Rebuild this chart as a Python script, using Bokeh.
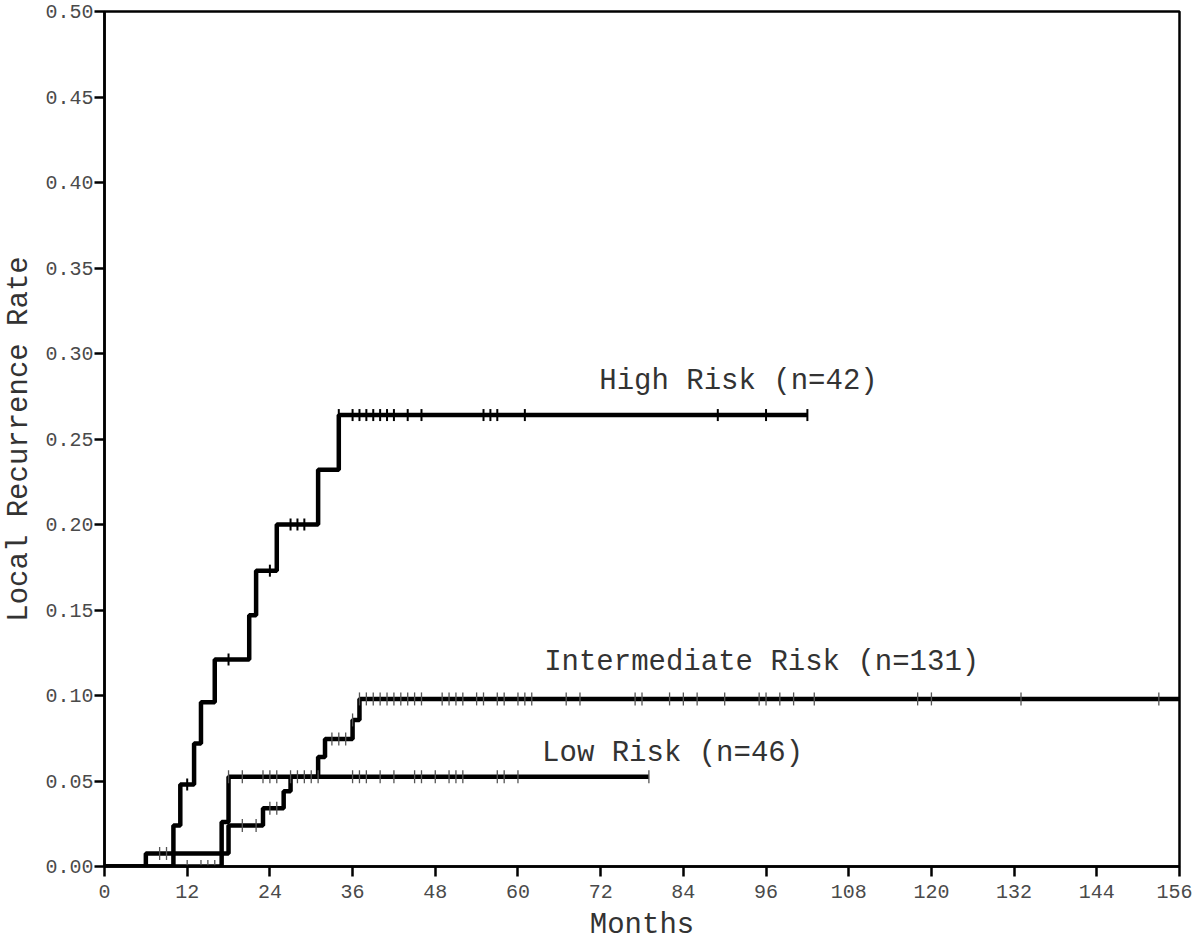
import numpy as np
from bokeh.plotting import figure
from bokeh.models import Range1d, FixedTicker, NumeralTickFormatter, Label
from bokeh.embed import file_html
from bokeh.resources import INLINE

# ---- data (months, cumulative local recurrence rate) ----
high_times = [0, 10, 11, 13, 14, 16, 21, 22, 25, 31, 34]
high_vals = [0.0, 0.024, 0.048, 0.072, 0.096, 0.121, 0.147, 0.173, 0.200, 0.232, 0.264]
high_end = 102
high_cens_t = [12, 18, 24, 27, 28, 29, 34, 36, 37, 38, 39, 40, 41, 42, 44, 46, 55, 56, 57, 61, 89, 96, 102]

inter_times = [0, 6, 18, 23, 26, 27, 31, 32, 36, 37]
inter_vals = [0.0, 0.0076, 0.024, 0.034, 0.044, 0.0525, 0.064, 0.0745, 0.0857, 0.098]
inter_end = 156
inter_cens_t = [8, 9, 20, 22, 24, 25, 33, 34, 35, 36,
                37, 38, 39, 40, 41, 42, 43, 44, 45, 46, 49, 50, 51, 52, 54, 55, 57, 58, 60, 61, 62,
                67, 69, 77, 78, 82, 84, 86, 90, 95, 96, 98, 100, 103, 118, 120, 133, 153]

low_times = [0, 17, 18]
low_vals = [0.0, 0.026, 0.0525]
low_end = 79
low_cens_t = [12, 14, 15, 16, 18, 20, 23, 24, 25, 27, 28, 29, 30, 31, 36, 37, 38, 40, 42,
              45, 46, 48, 50, 51, 52, 57, 58, 60, 79]

x_ticks = list(range(0, 157, 12))
y_ticks = [0.0, 0.05, 0.10, 0.15, 0.20, 0.25, 0.30, 0.35, 0.40, 0.45, 0.50]

labels = ["High Risk (n=42)", "Intermediate Risk (n=131)", "Low Risk (n=46)"]
label_pos = [(71.8, 0.2835), (63.8, 0.1193), (63.5, 0.0658)]
x_title = "Months"
y_title = "Local Recurrence Rate"

FONT = "Liberation Mono"


def value_at(times, vals, t):
    idx = np.searchsorted(np.array(times), t, side="right") - 1
    return vals[max(idx, 0)]


p = figure(width=1192, height=944, output_backend="svg", toolbar_location=None,
           x_range=Range1d(0, 156), y_range=Range1d(0, 0.5),
           min_border_left=101, min_border_right=13, min_border_top=11, min_border_bottom=77)
p.background_fill_color = "white"
p.border_fill_color = "white"
p.grid.visible = False
p.outline_line_color = "black"
p.outline_line_width = 2.5

p.xaxis.ticker = FixedTicker(ticks=x_ticks)
p.yaxis.ticker = FixedTicker(ticks=y_ticks)
p.yaxis.formatter = NumeralTickFormatter(format="0.00")
for ax in (p.xaxis, p.yaxis):
    ax.axis_line_width = 2.5
    ax.major_tick_line_width = 2.5
    ax.major_tick_out = 10
    ax.major_tick_in = 0
    ax.minor_tick_line_color = None
    ax.major_label_text_font = FONT
    ax.major_label_text_font_size = "20px"
    ax.major_label_text_color = "#4a4a4a"
    ax.axis_label_text_font = FONT
    ax.axis_label_text_font_size = "29px"
    ax.axis_label_text_font_style = "normal"
    ax.axis_label_text_color = "#333333"
p.xaxis.axis_label = x_title
p.yaxis.axis_label = y_title
p.xaxis.major_label_standoff = 8
p.xaxis.axis_label_standoff = 8
p.yaxis.major_label_standoff = 1
p.yaxis.axis_label_standoff = 6

groups = [
    (high_times, high_vals, high_end, high_cens_t, "black", 2.0, 12),
    (inter_times, inter_vals, inter_end, inter_cens_t, "#555555", 1.3, 13),
    (low_times, low_vals, low_end, low_cens_t, "#555555", 1.3, 13),
]
for times, vals, end, cens, ccol, cw, csize in groups:
    xs = list(times) + [end]
    ys = list(vals) + [vals[-1]]
    p.step(xs, ys, mode="after", line_color="black", line_width=4.5)
for times, vals, end, cens, ccol, cw, csize in groups:
    cy = [value_at(times, vals, t) for t in cens]
    p.scatter(cens, cy, marker="dash", angle=np.pi / 2, size=csize,
              line_color=ccol, line_width=cw, fill_color=None)

for txt, (lx, ly) in zip(labels, label_pos):
    p.add_layout(Label(x=lx, y=ly, text=txt, text_font=FONT, text_font_size="29px",
                       text_color="#333333", text_baseline="middle", text_align="left"))

open("out.html", "w").write(file_html(p, INLINE))
